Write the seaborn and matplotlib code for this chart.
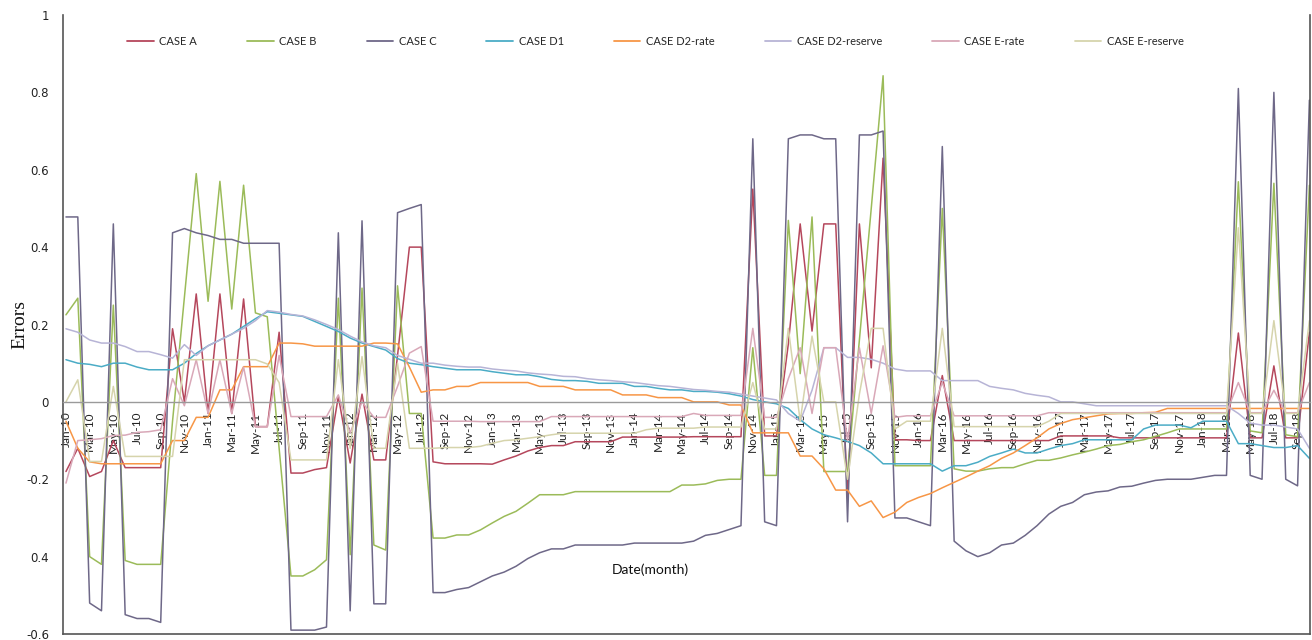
import numpy as np
import pandas as pd
import matplotlib
matplotlib.use("Agg")
import matplotlib.pyplot as plt
import seaborn as sns
from matplotlib.lines import Line2D

sns.set_theme(style="white")
plt.rcParams["font.family"] = ["Lato", "DejaVu Sans"]

# ---------------- data (monthly errors, Jan-10 .. Oct-18) ----------------
months = pd.date_range("2010-01-01", periods=106, freq="MS")
month_labels = [d.strftime("%b-%y") for d in months]

series_names = ["CASE A", "CASE B", "CASE C", "CASE D1", "CASE D2-rate",
                "CASE D2-reserve", "CASE E-rate", "CASE E-reserve"]

case_a = [-0.18, -0.12, -0.193, -0.18, -0.10, -0.17, -0.17, -0.17, -0.17, 0.189,
          0.0, 0.279, -0.03, 0.279, -0.03, 0.266, -0.064, -0.064, 0.18, -0.184,
          -0.184, -0.175, -0.17, 0.014, -0.158, 0.02, -0.15, -0.15, 0.12, 0.40,
          0.40, -0.155, -0.16, -0.16, -0.16, -0.16, -0.161, -0.15, -0.14, -0.127,
          -0.118, -0.113, -0.113, -0.103, -0.103, -0.103, -0.103, -0.091, -0.091, -0.091,
          -0.091, -0.091, -0.091, -0.09, -0.09, -0.09, -0.09, -0.09, 0.55, -0.088,
          -0.088, 0.15, 0.46, 0.183, 0.46, 0.46, -0.25, 0.46, 0.088, 0.63,
          -0.098, -0.098, -0.10, -0.10, 0.068, -0.10, -0.10, -0.10, -0.10, -0.10,
          -0.10, -0.10, -0.10, -0.10, -0.088, -0.088, -0.088, -0.088, -0.088, -0.093,
          -0.093, -0.093, -0.093, -0.093, -0.093, -0.093, -0.093, -0.093, -0.093, 0.178,
          -0.093, -0.093, 0.093, -0.093, -0.093, 0.18]

case_b = [0.225, 0.268, -0.40, -0.42, 0.25, -0.41, -0.42, -0.42, -0.42, -0.05,
          0.27, 0.59, 0.26, 0.57, 0.24, 0.56, 0.23, 0.22, -0.12, -0.45,
          -0.45, -0.434, -0.408, 0.268, -0.395, 0.294, -0.37, -0.383, 0.30, -0.03,
          -0.03, -0.352, -0.352, -0.344, -0.344, -0.331, -0.313, -0.296, -0.283, -0.262,
          -0.24, -0.24, -0.24, -0.232, -0.232, -0.232, -0.232, -0.232, -0.232, -0.232,
          -0.232, -0.232, -0.215, -0.215, -0.212, -0.203, -0.20, -0.20, 0.14, -0.19,
          -0.19, 0.469, 0.073, 0.478, -0.18, -0.18, -0.18, 0.16, 0.50, 0.843,
          -0.165, -0.165, -0.165, -0.165, 0.50, -0.173, -0.179, -0.179, -0.173, -0.17,
          -0.17, -0.16, -0.151, -0.151, -0.145, -0.137, -0.13, -0.122, -0.113, -0.11,
          -0.103, -0.098, -0.089, -0.08, -0.07, -0.07, -0.07, -0.07, -0.07, 0.569,
          -0.075, -0.08, 0.565, -0.085, -0.09, 0.56]

case_c = [0.478, 0.478, -0.52, -0.54, 0.46, -0.55, -0.56, -0.56, -0.57, 0.437,
          0.448, 0.437, 0.43, 0.42, 0.42, 0.41, 0.41, 0.41, 0.41, -0.59,
          -0.59, -0.59, -0.582, 0.437, -0.54, 0.468, -0.522, -0.522, 0.489, 0.50,
          0.51, -0.493, -0.493, -0.485, -0.48, -0.465, -0.45, -0.44, -0.425, -0.405,
          -0.39, -0.38, -0.38, -0.37, -0.37, -0.37, -0.37, -0.37, -0.365, -0.365,
          -0.365, -0.365, -0.365, -0.36, -0.345, -0.34, -0.33, -0.32, 0.68, -0.31,
          -0.32, 0.68, 0.69, 0.69, 0.68, 0.68, -0.31, 0.69, 0.69, 0.70,
          -0.30, -0.30, -0.31, -0.32, 0.66, -0.36, -0.385, -0.40, -0.39, -0.37,
          -0.365, -0.345, -0.32, -0.29, -0.27, -0.26, -0.24, -0.233, -0.23, -0.22,
          -0.218, -0.21, -0.203, -0.20, -0.20, -0.20, -0.195, -0.19, -0.19, 0.81,
          -0.19, -0.20, 0.80, -0.20, -0.217, 0.78]

case_d1 = [0.109, 0.10, 0.097, 0.091, 0.10, 0.10, 0.09, 0.083, 0.083, 0.083,
           0.10, 0.125, 0.145, 0.16, 0.175, 0.195, 0.215, 0.233, 0.229, 0.225,
           0.221, 0.208, 0.195, 0.182, 0.165, 0.152, 0.143, 0.134, 0.112, 0.10,
           0.096, 0.091, 0.087, 0.083, 0.083, 0.083, 0.078, 0.074, 0.07, 0.07,
           0.065, 0.058, 0.055, 0.055, 0.053, 0.048, 0.048, 0.048, 0.04, 0.04,
           0.035, 0.031, 0.031, 0.027, 0.027, 0.025, 0.021, 0.015, 0.006, 0.0,
           -0.005, -0.017, -0.046, -0.07, -0.085, -0.093, -0.102, -0.113, -0.132, -0.16,
           -0.16, -0.16, -0.16, -0.16, -0.179, -0.165, -0.165, -0.156, -0.141, -0.132,
           -0.122, -0.132, -0.132, -0.122, -0.113, -0.108, -0.098, -0.098, -0.098, -0.098,
           -0.098, -0.07, -0.06, -0.06, -0.06, -0.067, -0.05, -0.05, -0.05, -0.108,
           -0.108, -0.113, -0.118, -0.118, -0.113, -0.146]

case_d2_rate = [-0.05, -0.12, -0.155, -0.16, -0.16, -0.16, -0.16, -0.16, -0.16, -0.10,
                -0.10, -0.04, -0.04, 0.031, 0.031, 0.091, 0.091, 0.091, 0.152, 0.152,
                0.15, 0.144, 0.144, 0.144, 0.144, 0.144, 0.152, 0.152, 0.15, 0.09,
                0.025, 0.031, 0.031, 0.04, 0.04, 0.05, 0.05, 0.05, 0.05, 0.05,
                0.04, 0.04, 0.04, 0.031, 0.031, 0.031, 0.031, 0.018, 0.018, 0.018,
                0.011, 0.011, 0.011, 0.0, 0.0, 0.0, -0.008, -0.008, -0.08, -0.08,
                -0.08, -0.08, -0.14, -0.14, -0.173, -0.228, -0.228, -0.27, -0.256, -0.299,
                -0.285, -0.26, -0.247, -0.237, -0.222, -0.208, -0.194, -0.179, -0.165, -0.146,
                -0.132, -0.113, -0.093, -0.07, -0.056, -0.046, -0.041, -0.036, -0.031, -0.03,
                -0.03, -0.028, -0.027, -0.017, -0.017, -0.017, -0.017, -0.017, -0.017, -0.017,
                -0.017, -0.017, -0.017, -0.017, -0.017, -0.017]

case_d2_reserve = [0.189, 0.18, 0.16, 0.152, 0.152, 0.143, 0.13, 0.13, 0.122, 0.113,
                   0.148, 0.12, 0.145, 0.16, 0.175, 0.19, 0.21, 0.236, 0.232, 0.226,
                   0.222, 0.212, 0.20, 0.187, 0.17, 0.155, 0.145, 0.14, 0.12, 0.11,
                   0.10, 0.10, 0.095, 0.092, 0.09, 0.09, 0.085, 0.082, 0.08, 0.075,
                   0.072, 0.07, 0.066, 0.065, 0.06, 0.057, 0.055, 0.052, 0.05, 0.046,
                   0.042, 0.04, 0.036, 0.032, 0.03, 0.027, 0.025, 0.02, 0.015, 0.01,
                   0.005, -0.03, -0.05, 0.03, 0.14, 0.14, 0.115, 0.115, 0.11, 0.10,
                   0.085, 0.08, 0.08, 0.08, 0.055, 0.055, 0.055, 0.055, 0.04, 0.035,
                   0.031, 0.022, 0.017, 0.013, 0.0, 0.0, -0.005, -0.01, -0.01, -0.01,
                   -0.01, -0.01, -0.01, -0.01, -0.01, -0.01, -0.01, -0.01, -0.01, -0.03,
                   -0.055, -0.06, -0.06, -0.065, -0.07, -0.12]

case_e_rate = [-0.21, -0.10, -0.098, -0.095, -0.087, -0.086, -0.079, -0.077, -0.072, 0.06,
               -0.01, 0.109, -0.03, 0.109, -0.03, 0.09, -0.064, -0.064, 0.12, -0.038,
               -0.038, -0.038, -0.038, 0.018, -0.08, 0.0, -0.04, -0.04, 0.04, 0.126,
               0.143, -0.05, -0.05, -0.05, -0.05, -0.051, -0.051, -0.051, -0.051, -0.051,
               -0.051, -0.038, -0.038, -0.038, -0.038, -0.038, -0.038, -0.038, -0.038, -0.038,
               -0.038, -0.038, -0.038, -0.03, -0.035, -0.035, -0.035, -0.035, 0.19, -0.04,
               -0.04, 0.06, 0.14, -0.03, 0.14, 0.14, -0.10, 0.14, -0.03, 0.145,
               -0.04, -0.036, -0.036, -0.036, 0.05, -0.036, -0.036, -0.036, -0.036, -0.036,
               -0.036, -0.036, -0.036, -0.028, -0.028, -0.028, -0.028, -0.028, -0.028, -0.028,
               -0.028, -0.028, -0.028, -0.028, -0.028, -0.028, -0.028, -0.028, -0.028, 0.05,
               -0.028, -0.028, 0.03, -0.028, -0.028, 0.05]

case_e_reserve = [0.0, 0.057, -0.154, -0.154, 0.04, -0.141, -0.141, -0.141, -0.141, -0.141,
                  0.109, 0.109, 0.109, 0.109, 0.109, 0.109, 0.109, 0.098, 0.05, -0.15,
                  -0.15, -0.15, -0.15, 0.109, -0.12, 0.117, -0.12, -0.12, 0.10, -0.12,
                  -0.12, -0.12, -0.118, -0.118, -0.118, -0.115, -0.107, -0.10, -0.098, -0.094,
                  -0.09, -0.085, -0.081, -0.081, -0.081, -0.081, -0.081, -0.081, -0.081, -0.072,
                  -0.068, -0.068, -0.068, -0.068, -0.065, -0.065, -0.065, -0.065, 0.05, -0.07,
                  -0.07, 0.19, -0.05, 0.17, 0.0, 0.0, -0.20, 0.02, 0.19, 0.19,
                  -0.07, -0.05, -0.05, -0.05, 0.19, -0.064, -0.064, -0.064, -0.064, -0.064,
                  -0.064, -0.064, -0.064, -0.05, -0.03, -0.03, -0.03, -0.03, -0.03, -0.03,
                  -0.03, -0.03, -0.03, -0.03, -0.03, -0.03, -0.03, -0.03, -0.03, 0.45,
                  -0.03, -0.03, 0.21, -0.03, -0.03, 0.21]

series_values = [case_a, case_b, case_c, case_d1, case_d2_rate,
                 case_d2_reserve, case_e_rate, case_e_reserve]

y_ticks = [-0.6, -0.4, -0.2, 0.0, 0.2, 0.4, 0.6, 0.8, 1.0]
y_tick_labels = ["-0.6", "0.4", "-0.2", "0", "0.2", "0.4", "0.6", "0.8", "1"]

# ---------------- styling ----------------
colors = ["#B5475C", "#9BBB59", "#6E6888", "#4BACC6", "#F79646",
          "#B7B4D6", "#D9A8B8", "#D6D4AC"]
palette = dict(zip(series_names, colors))

df = pd.DataFrame({
    "month": np.tile(np.arange(len(months)), len(series_names)),
    "value": np.concatenate([np.asarray(v, dtype=float) for v in series_values]),
    "series": np.repeat(series_names, len(months)),
})

W, H = 1312, 640
fig = plt.figure(figsize=(W / 100, H / 100), dpi=100)
fig.patch.set_facecolor("white")
ax = fig.add_axes([63 / W, 6 / H, 1247 / W, 619 / H])

sns.lineplot(data=df, x="month", y="value", hue="series", hue_order=series_names,
             palette=palette, estimator=None, linewidth=1.1, legend=False, ax=ax)

ax.set_xlim(-0.25, 105.05)
ax.set_ylim(-0.6, 1.0)

# horizontal axis through zero, frame on left / right / bottom only
ax.spines["bottom"].set_position(("data", 0))
ax.spines["bottom"].set_color("#9a9a9a")
ax.spines["bottom"].set_linewidth(1.0)
ax.spines["top"].set_position(("axes", 0))
for s in ["left", "top", "right"]:
    ax.spines[s].set_color("#555555")
    ax.spines[s].set_linewidth(1.2)

ax.set_xticks(np.arange(0, len(months), 2))
ax.set_xticklabels(month_labels[::2], rotation=90, fontsize=8.5, color="#222222")
ax.tick_params(axis="x", direction="out", length=5, width=0.8, color="#9a9a9a", pad=2)

ax.set_yticks(y_ticks)
ax.set_yticklabels(y_tick_labels, fontsize=8.5, color="#222222", family="DejaVu Sans")
ax.tick_params(axis="y", direction="out", length=5, width=0.8, color="#555555", pad=5)

ax.set_xlabel("Date(month)", fontsize=10, color="#111111")
ax.xaxis.set_label_coords((650 - 63) / 1247, (634 - 563) / 619)
ax.set_ylabel("Errors", fontsize=14, family=["Liberation Serif", "DejaVu Serif"], color="#111111")
ax.yaxis.set_label_coords(-0.028, 0.50)

handles = [Line2D([], [], color=c, lw=1.3) for c in colors]
ax.legend(handles, series_names, ncol=8, loc="upper left",
          bbox_to_anchor=(127 / W, 1 - 36 / H), bbox_transform=fig.transFigure,
          frameon=False, fontsize=8, handlelength=2.4, handletextpad=0.5,
          columnspacing=4.5, borderpad=0, borderaxespad=0)

fig.savefig("out.png", dpi=100, facecolor="white")
